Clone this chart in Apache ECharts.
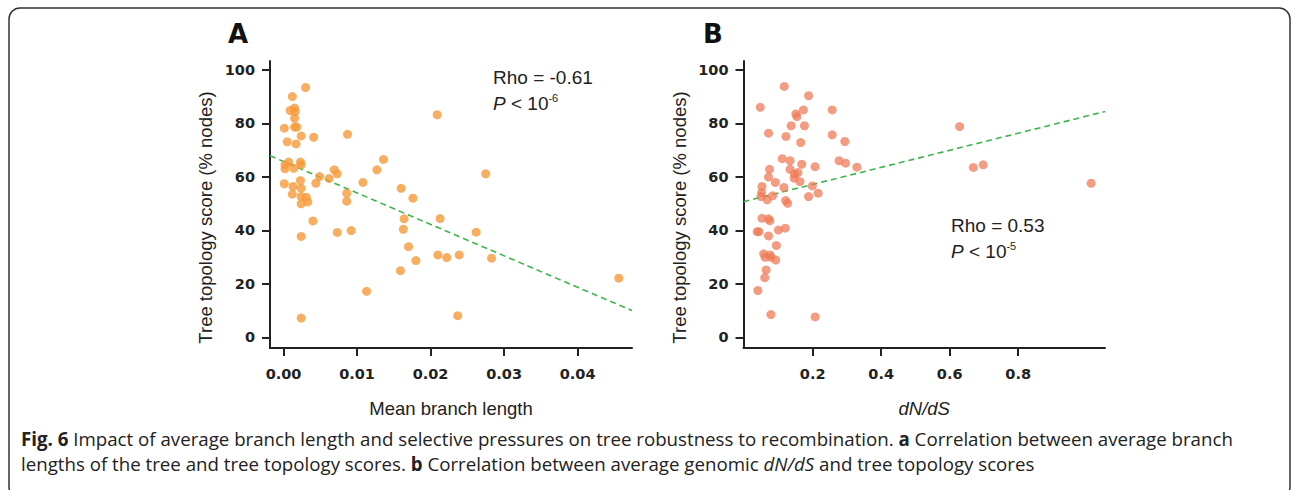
<!DOCTYPE html>
<html>
<head>
<meta charset="utf-8">
<script src="https://cdn.jsdelivr.net/npm/echarts@6/dist/echarts.min.js"></script>
<style>
html,body{margin:0;padding:0;background:#fff;}
#chart{width:1293px;height:490px;}
</style>
</head>
<body>
<div id="chart"></div>
<script>
// Panel A: mean branch length vs tree topology score
const branchLength = [0.0030,0.0012,0.0009,0.0015,0.0016,0.0015,0.0015,0.0018,0.0001,0.0024,0.0041,0.0005,0.0017,0.0087,0.0007,0.0002,0.0002,0.0014,0.0023,0.0024,0.0023,0.0001,0.0013,0.0024,0.0012,0.0024,0.0031,0.0033,0.0024,0.0049,0.0044,0.0062,0.0069,0.0073,0.0086,0.0086,0.0040,0.0024,0.0073,0.0092,0.0108,0.0127,0.0136,0.0113,0.0024,0.0160,0.0176,0.0164,0.0163,0.0170,0.0180,0.0159,0.0209,0.0213,0.0210,0.0222,0.0239,0.0275,0.0262,0.0283,0.0237,0.0456];
const scoreA = [93.4,90.0,84.8,85.7,84.4,81.9,78.6,78.6,78.2,75.3,74.8,73.1,72.3,75.9,65.5,64.5,63.0,63.2,65.5,64.5,58.6,57.4,56.4,55.7,53.5,52.6,52.4,50.6,49.9,60.1,57.6,59.4,62.6,61.1,53.9,50.9,43.5,37.7,39.2,39.9,57.9,62.6,66.5,17.2,7.2,55.7,52.0,44.3,40.4,33.9,28.7,24.9,83.2,44.4,30.8,29.8,30.8,61.1,39.3,29.6,8.1,22.1];
const fitA_x = [-0.00184, 0.0474];
const fitA_y = [67.9, 10.0];

// Panel B: dN/dS vs tree topology score
const dnds = [0.117,0.047,0.188,0.257,0.173,0.151,0.154,0.137,0.176,0.071,0.122,0.257,0.294,0.165,0.111,0.134,0.277,0.296,0.168,0.207,0.329,0.074,0.134,0.157,0.147,0.071,0.146,0.163,0.091,0.052,0.116,0.199,0.051,0.216,0.049,0.083,0.188,0.067,0.121,0.127,0.052,0.071,0.075,0.038,0.043,0.071,0.100,0.120,0.094,0.057,0.061,0.076,0.078,0.092,0.064,0.060,0.040,0.078,0.207,0.629,0.669,0.698,1.013];
const scoreB = [93.8,86.0,90.3,85.0,85.0,83.5,82.5,79.1,79.1,76.3,75.1,75.7,73.2,72.8,66.8,66.0,66.0,65.1,64.7,63.8,63.6,62.8,62.8,61.6,61.0,59.9,59.5,58.2,57.9,56.4,56.0,56.6,54.1,53.9,52.6,52.9,52.6,51.4,51.1,50.1,44.5,44.3,43.6,39.5,39.5,37.9,40.1,40.8,34.3,31.2,29.9,30.8,29.9,28.9,25.2,22.3,17.5,8.5,7.6,78.8,63.5,64.5,57.6];
const fitB_x = [-0.002, 1.0535];
const fitB_y = [50.7, 84.4];

// Tick labels
const yTicks = [0, 20, 40, 60, 80, 100];
const xTicksA = [0, 0.01, 0.02, 0.03, 0.04];
const xTicksB = [0.2, 0.4, 0.6, 0.8];

const zip = (xs, ys) => xs.map((x, i) => [x, ys[i]]);

const axisColor = '#222';
const tickFont = {fontFamily: 'DejaVu Sans', fontWeight: 'bold', fontSize: 14.5, color: '#222'};
const nameFont = {fontFamily: 'Liberation Sans', fontSize: 18.5, color: '#222'};

function xAxisDef(idx, min, max, ticks, digits, name, italic) {
  return {
    gridIndex: idx, type: 'value', min: min, max: max,
    name: name, nameLocation: 'middle', nameGap: 51,
    nameTextStyle: Object.assign({}, nameFont, italic ? {fontStyle: 'italic'} : {}),
    axisLine: {show: true, onZero: false, lineStyle: {color: axisColor, width: 2}},
    axisTick: {show: true, length: 8, customValues: ticks, lineStyle: {color: axisColor, width: 2}},
    axisLabel: Object.assign({customValues: ticks, margin: 18, formatter: v => Number(v).toFixed(digits)}, tickFont),
    splitLine: {show: false}
  };
}
function yAxisDef(idx) {
  return {
    gridIndex: idx, type: 'value', min: -4, max: 103.3,
    name: 'Tree topology score (% nodes)', nameLocation: 'middle', nameGap: 55,
    nameTextStyle: Object.assign({padding: [0, 26, 0, 0]}, nameFont),
    axisLine: {show: true, onZero: false, lineStyle: {color: axisColor, width: 2}},
    axisTick: {show: true, length: 8, customValues: yTicks, lineStyle: {color: axisColor, width: 2}},
    axisLabel: Object.assign({customValues: yTicks, margin: 15}, tickFont),
    splitLine: {show: false}
  };
}

const fitStyle = {color: '#3DB54A', width: 1.6, type: [6, 4]};
const annFont = 'Liberation Sans';
function annotation(x, y, rho, pexp) {
  return [
    {type: 'text', left: x, top: y - 12, style: {text: 'Rho = ' + rho, font: '19px "' + annFont + '"', fill: '#222'}},
    {type: 'text', left: x, top: y + 12, style: {
      text: '{i|P}{n| < 10}{s|' + pexp + '}',
      fill: '#222',
      rich: {
        i: {fontFamily: annFont, fontSize: 19, fontStyle: 'italic', lineHeight: 22, fill: '#222'},
        n: {fontFamily: annFont, fontSize: 19, lineHeight: 22, fill: '#222'},
        s: {fontFamily: annFont, fontSize: 11, lineHeight: 22, verticalAlign: 'top', fill: '#222'}
      }
    }}
  ];
}

const capFont = 'Open Sans';
const capRich = {
  r: {fontFamily: capFont, fontSize: 18.7, fill: '#222', lineHeight: 25},
  b: {fontFamily: capFont, fontSize: 18.7, fontWeight: 'bold', fill: '#222', lineHeight: 25},
  i: {fontFamily: capFont, fontSize: 18.7, fontStyle: 'italic', fill: '#222', lineHeight: 25}
};

const chart = echarts.init(document.getElementById('chart'), null, {renderer: 'svg'});
chart.setOption({
  animation: false,
  backgroundColor: '#fff',
  grid: [
    {left: 270, top: 61, width: 362, height: 287},
    {left: 743.5, top: 61, width: 361.5, height: 287}
  ],
  xAxis: [
    xAxisDef(0, -0.00184, 0.0474, xTicksA, 2, 'Mean branch length', false),
    xAxisDef(1, -0.002, 1.0535, xTicksB, 1, 'dN/dS', true)
  ],
  yAxis: [yAxisDef(0), yAxisDef(1)],
  series: [
    {type: 'line', xAxisIndex: 0, yAxisIndex: 0, data: zip(fitA_x, fitA_y), symbol: 'none', lineStyle: fitStyle, z: 2, silent: true},
    {type: 'scatter', xAxisIndex: 0, yAxisIndex: 0, data: zip(branchLength, scoreA), symbolSize: 9,
     itemStyle: {color: '#F59A3A', opacity: 0.8}, z: 3},
    {type: 'line', xAxisIndex: 1, yAxisIndex: 1, data: zip(fitB_x, fitB_y), symbol: 'none', lineStyle: fitStyle, z: 2, silent: true},
    {type: 'scatter', xAxisIndex: 1, yAxisIndex: 1, data: zip(dnds, scoreB), symbolSize: 9,
     itemStyle: {color: '#EF7B57', opacity: 0.75}, z: 3}
  ],
  graphic: [
    {type: 'rect', shape: {x: 9, y: 8, width: 1281, height: 490, r: 11}, style: {fill: 'none', stroke: '#333', lineWidth: 1.5}, z: 0},
    {type: 'text', left: 228, top: 21, style: {text: 'A', font: 'bold 26px "DejaVu Sans"', fill: '#111'}},
    {type: 'text', left: 703, top: 21, style: {text: 'B', font: 'bold 26px "DejaVu Sans"', fill: '#111'}},
    ...annotation(493, 80, '-0.61', '-6'),
    ...annotation(951, 228, '0.53', '-5'),
    {type: 'text', left: 21, top: 429, style: {
      text: '{b|Fig. 6}{r| Impact of average branch length and selective pressures on tree robustness to recombination. }{b|a}{r| Correlation between average branch}\n{r|lengths of the tree and tree topology scores. }{b|b}{r| Correlation between average genomic }{i|dN/dS}{r| and tree topology scores}',
      rich: capRich
    }}
  ]
});
</script>
</body>
</html>
